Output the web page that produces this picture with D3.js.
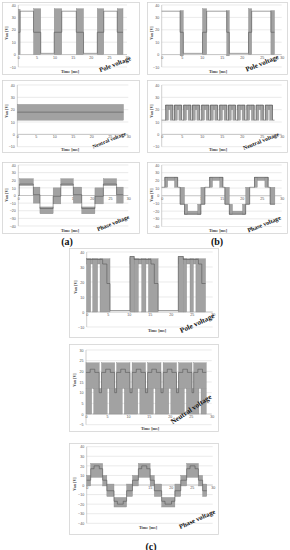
<!DOCTYPE html>
<html>
<head>
<meta charset="utf-8">
<script src="https://cdn.jsdelivr.net/npm/d3@7"></script>
<style>
  body { margin: 0; background: #fff; }
  svg { display: block; }
</style>
</head>
<body>
<svg width="290" height="550"></svg>
<script>
// tick labels
var timeTicks = [0, 5, 10, 15, 20, 25, 30];
var poleTicks = [40, 30, 20, 10, 0, -10];
var neutralTicks = [40, 30, 20, 10, 0, -10];
var neutralTicksC = [30, 25, 20, 15, 10, 5, 0, -5];
var phaseTicks = [40, 30, 20, 10, 0, -10, -20, -30, -40];

// switching bands [t0, t1, low, high] (ms, V) and mean line [t, V] (step)
// (a) pole voltage
var poleA_bands = [[0, 0.5, 0, 36.5], [4.2, 6.2, 0, 37], [9.9, 12, 0, 37], [16, 18, 0, 37],
  [21.8, 23.6, 0, 37], [27.3, 28.9, 0, 37]];
var poleA_line = [[0, 18], [0.5, 35], [4.2, 18], [6.2, 1], [9.9, 18], [12, 35], [16, 18], [18, 1],
  [21.8, 18], [23.6, 35], [27.3, 18], [28.9, 18]];

// (b) pole voltage
var poleB_bands = [[4.6, 5.4, -1, 35.5], [10.2, 11.25, 0, 37], [16.25, 16.9, -1, 35.5],
  [21.7, 22.5, 0, 37], [27.3, 28.2, 0, 35.5]];
var poleB_line = [[0, 35], [4.6, 18], [5.4, 1], [10.2, 18], [11.25, 35], [16.25, 18], [16.9, 1],
  [21.7, 18], [22.5, 35], [27.3, 18], [28.2, 18]];

// (a) neutral voltage
var neutralA_bands = [[0, 28.7, 11.5, 24.3]];
var neutralA_line = [[0, 18], [28.7, 18]];

// (b) neutral voltage: pulse groups [t0, t1]
var neutralB_groups = [[1.0, 2.8], [3.2, 5.0], [5.5, 7.3], [7.7, 9.5], [10.0, 11.8], [12.2, 14.0],
  [14.5, 16.3], [16.7, 18.5], [19.0, 20.8], [21.3, 23.1], [23.6, 25.4], [25.9, 27.7]];

// (a) phase voltage
var phaseA_bands = [[0.3, 4.1, 13, 22], [4.1, 5.9, -10, 11], [5.9, 9.5, -24, -15], [9.5, 11.6, -11, 10],
  [11.6, 15, 13, 22], [15, 17.3, -10, 11], [17.3, 20.9, -24, -15], [20.9, 23.2, -11, 10],
  [23.2, 26.8, 13, 22], [26.8, 28.6, -10, 11]];
var phaseA_line = [[0, 0], [0.3, 15], [4.1, 1], [5.9, -17], [9.5, -1], [11.6, 15], [15, 1], [17.3, -17],
  [20.9, -1], [23.2, 15], [26.8, 1], [28.6, 1]];

// (b) phase voltage
var phaseB_bands = [
  [0.8, 4.0, 20, 24], [0.8, 1.5, 11, 24], [3.2, 4.0, 11, 24], [4.6, 5.7, -11, 11],
  [5.7, 9.8, -24, -20], [5.7, 6.5, -24, -11], [9.0, 9.8, -24, -11], [9.8, 10.8, -11, 11],
  [12.0, 15.3, 20, 24], [12.0, 12.7, 11, 24], [14.5, 15.3, 11, 24], [15.8, 16.9, -11, 11],
  [16.9, 21.0, -24, -20], [16.9, 17.7, -24, -11], [20.2, 21.0, -24, -11], [21.0, 22.0, -11, 11],
  [23.2, 26.6, 20, 24], [23.2, 23.9, 11, 24], [25.8, 26.6, 11, 24], [27.1, 28.3, -11, 11]];
var phaseB_line = [[0, 11], [0.8, 24], [4.0, 11], [4.6, -11], [5.7, -24], [9.8, -11], [10.8, 11],
  [12.0, 24], [15.3, 11], [15.8, -11], [16.9, -24], [21.0, -11], [22.0, 11], [23.2, 24], [26.6, 11],
  [27.1, -11], [28.3, -11]];

// (c) pole voltage
var poleC_bands = [
  [0, 3.8, 32, 35.5], [0, 0.95, 0, 35.5], [1.43, 2.6, 0, 35.5], [3.17, 5.55, 0, 35.5],
  [10.3, 15.3, 32, 35.5], [10.3, 11.3, 0, 37], [11.3, 12.3, 0, 35.5], [13.1, 14.1, 0, 35.5], [14.7, 17, 0, 35.5],
  [21.8, 26.6, 32, 35.5], [21.8, 23, 0, 37], [23, 23.8, 0, 35.5], [24.6, 25.4, 0, 35.5], [26, 28.3, 0, 35.5]];
var poleC_line = [[0, 35], [3.8, 32], [4.8, 19], [5.55, 1], [10.3, 37], [11.3, 35], [15.3, 32], [16.1, 19],
  [17, 1], [21.8, 37], [23, 35], [26.6, 32], [27.4, 19], [28.3, 19]];

// (c) neutral voltage
var neutralC_bands = [
  [0, 3.15, 12, 24], [3.7, 6.85, 12, 24], [7.3, 10.5, 12, 24], [11.0, 14.2, 12, 24],
  [14.7, 17.9, 12, 24], [18.4, 21.6, 12, 24], [22.1, 25.3, 12, 24], [25.7, 28.7, 12, 24],
  [0, 1.35, 0, 12], [1.85, 5.05, 0, 12], [5.55, 8.65, 0, 12], [9.15, 12.35, 0, 12],
  [12.85, 16.05, 0, 12], [16.55, 19.75, 0, 12], [20.25, 23.45, 0, 12], [23.95, 26.95, 0, 12],
  [27.45, 28.7, 0, 12]];
var neutralC_line = [[0, 19.5], [1.0, 21], [2.1, 19.5], [3.15, 10], [3.7, 19.5], [4.7, 21], [5.8, 19.5],
  [6.85, 10], [7.3, 19.5], [8.3, 21], [9.4, 19.5], [10.5, 10], [11.0, 19.5], [12.0, 21], [13.1, 19.5],
  [14.2, 10], [14.7, 19.5], [15.7, 21], [16.8, 19.5], [17.9, 10], [18.4, 19.5], [19.4, 21], [20.5, 19.5],
  [21.6, 10], [22.1, 19.5], [23.1, 21], [24.2, 19.5], [25.3, 10], [25.7, 19.5], [26.7, 21], [27.8, 19.5],
  [28.7, 19.5]];

// (c) phase voltage
var phaseC_bands = [
  [0, 0.95, -1, 10], [0.95, 3.8, 8, 22.5], [3.8, 4.8, -1, 10], [4.8, 6.5, -12, 1], [6.5, 9.5, -23, -13],
  [9.5, 10.9, -12, 1], [10.9, 12.3, -1, 10], [12.3, 15.1, 8, 22.5], [15.1, 16.1, -1, 10],
  [16.1, 17.85, -12, 1], [17.85, 21.0, -23, -13], [21.0, 22.4, -12, 1], [22.4, 23.8, -1, 10],
  [23.8, 26.6, 8, 22.5], [26.6, 27.6, -1, 10], [27.6, 28.6, -12, 1]];
var phaseC_line = [[0, 5], [0.95, 17], [1.75, 20], [3.0, 17], [3.8, 5], [4.8, -6], [6.5, -17], [7.3, -20],
  [8.7, -17], [9.5, -6], [10.9, 5], [12.3, 17], [13.1, 20], [14.3, 17], [15.1, 5], [16.1, -6],
  [17.85, -17], [18.65, -20], [20.2, -17], [21.0, -6], [22.4, 5], [23.8, 17], [24.6, 20], [25.8, 17],
  [26.6, 5], [27.6, -6], [28.6, -6]];

// (b) neutral: each pulse group drawn as a joined pair of pulses
var neutralB_bands = [];
var neutralB_line = [[0, 11.5]];
neutralB_groups.forEach(function (g) {
  neutralB_bands.push([g[0], g[1], 20, 23.7], [g[0], g[0] + 0.7, 11.5, 23.7], [g[1] - 0.7, g[1], 11.5, 23.7]);
  neutralB_line.push([g[0], 23.7], [g[1], 11.5]);
});
neutralB_line.push([28.2, 11.5]);

// layout of the panels
var panels = [
  { bands: poleA_bands, line: poleA_line, ticks: poleTicks, name: "Pole voltage",
    box: [2, 2, 139, 74], xr: [18.3, 127], yr: [5, 67], lab: [115, 64, -22, 6.5], yt: [7, 33], xt: [70, 71.5] },
  { bands: poleB_bands, line: poleB_line, ticks: poleTicks, name: "Pole voltage",
    box: [147, 2, 287, 74], xr: [161.7, 281.7], yr: [5, 67], lab: [262, 63, -22, 6.8], yt: [152, 33], xt: [218, 71.5] },
  { bands: neutralA_bands, line: neutralA_line, ticks: neutralTicks, name: "Neutral voltage",
    box: [2, 80, 139, 152], xr: [17.3, 128.3], yr: [85, 146.7], lab: [109, 140, -22, 5.4], yt: [7, 111], xt: [70, 149.5] },
  { bands: neutralB_bands, line: neutralB_line, ticks: neutralTicks, name: "Neutral voltage",
    box: [147, 80, 287, 152], xr: [161.7, 281.7], yr: [85, 146.7], lab: [261, 141, -22, 5.8], yt: [152, 111], xt: [218, 149.5] },
  { bands: phaseA_bands, line: phaseA_line, ticks: phaseTicks, name: "Phase voltage",
    box: [2, 162, 139, 233], xr: [18.3, 128.3], yr: [165, 226], lab: [113, 223, -22, 5.9], yt: [7, 195], xt: [70, 230.5] },
  { bands: phaseB_bands, line: phaseB_line, ticks: phaseTicks, name: "Phase voltage",
    box: [147, 162, 287, 233], xr: [161.7, 281.7], yr: [165, 226.5], lab: [264, 224, -22, 6.1], yt: [152, 195], xt: [218, 230.5] },
  { bands: poleC_bands, line: poleC_line, ticks: poleTicks, name: "Pole voltage",
    box: [69, 248, 218, 337], xr: [86.7, 212.7], yr: [252, 327], lab: [197, 323, -25, 7.2], yt: [76, 287], xt: [157, 331] },
  { bands: neutralC_bands, line: neutralC_line, ticks: neutralTicksC, name: "Neutral voltage",
    box: [69, 344, 218, 431], xr: [86, 211.7], yr: [350, 424.7], lab: [191, 409, -34, 7.2], yt: [75, 380], xt: [150, 429] },
  { bands: phaseC_bands, line: phaseC_line, ticks: phaseTicks, name: "Phase voltage",
    box: [69, 443, 218, 534], xr: [86.7, 212.7], yr: [446.7, 523.3], lab: [197, 519, -24, 6.7], yt: [75, 484], xt: [148, 528] }
];

var svg = d3.select("svg");

panels.forEach(function (p) {
  var g = svg.append("g");
  var x = d3.scaleLinear().domain([0, 30]).range(p.xr);
  var y = d3.scaleLinear().domain([p.ticks[0], p.ticks[p.ticks.length - 1]]).range(p.yr);

  // frame
  g.append("rect")
    .attr("x", p.box[0] + 0.5).attr("y", p.box[1] + 0.5)
    .attr("width", p.box[2] - p.box[0]).attr("height", p.box[3] - p.box[1])
    .attr("fill", "#fff").attr("stroke", "#d4d4d4").attr("stroke-width", 0.8);

  // gridlines
  g.selectAll(".grid").data(p.ticks).enter().append("line")
    .attr("x1", p.xr[0]).attr("x2", p.xr[1])
    .attr("y1", function (d) { return y(d); }).attr("y2", function (d) { return y(d); })
    .attr("stroke", function (d) { return d === 0 ? "#9a9a9a" : "#dcdcdc"; })
    .attr("stroke-width", 0.6);

  g.append("line")
    .attr("x1", p.xr[0]).attr("x2", p.xr[0])
    .attr("y1", p.yr[0]).attr("y2", p.yr[1])
    .attr("stroke", "#b0b0b0").attr("stroke-width", 0.6);

  // axes (labels only)
  var ya = g.append("g")
    .attr("transform", "translate(" + p.xr[0] + ",0)")
    .call(d3.axisLeft(y).tickValues(p.ticks).tickSize(0).tickPadding(2.5));
  var xa = g.append("g")
    .attr("transform", "translate(0," + y(0) + ")")
    .call(d3.axisBottom(x).tickValues(timeTicks).tickSize(0).tickPadding(1.5));
  [ya, xa].forEach(function (a) {
    a.select(".domain").remove();
    a.selectAll("text").attr("font-size", 3.6).attr("fill", "#555")
      .attr("font-family", "Liberation Sans, sans-serif");
  });

  // switching bands
  g.selectAll(".band").data(p.bands).enter().append("rect")
    .attr("x", function (d) { return x(d[0]); })
    .attr("width", function (d) { return x(d[1]) - x(d[0]); })
    .attr("y", function (d) { return y(d[3]); })
    .attr("height", function (d) { return y(d[2]) - y(d[3]); })
    .attr("fill", "#a2a2a2").attr("stroke", "#858585").attr("stroke-width", 0.35);

  // mean line
  g.append("path")
    .datum(p.line)
    .attr("d", d3.line()
      .x(function (d) { return x(d[0]); })
      .y(function (d) { return y(d[1]); })
      .curve(d3.curveStepAfter))
    .attr("fill", "none").attr("stroke", "#505050").attr("stroke-width", 0.55);

  // axis titles
  g.append("text")
    .attr("transform", "translate(" + p.yt[0] + "," + p.yt[1] + ") rotate(-90)")
    .attr("text-anchor", "middle").attr("dy", "0.35em")
    .attr("font-size", 4).attr("font-family", "Liberation Serif, serif").attr("font-weight", "bold")
    .attr("fill", "#444").text("Van [V]");
  g.append("text")
    .attr("x", p.xt[0]).attr("y", p.xt[1])
    .attr("text-anchor", "middle").attr("dy", "0.35em")
    .attr("font-size", 4.2).attr("font-family", "Liberation Serif, serif").attr("font-weight", "bold")
    .attr("fill", "#444").text("Time [ms]");

  // rotated caption
  g.append("text")
    .attr("transform", "translate(" + p.lab[0] + "," + p.lab[1] + ") rotate(" + p.lab[2] + ")")
    .attr("text-anchor", "middle").attr("dy", "0.35em")
    .attr("font-size", p.lab[3]).attr("font-family", "Liberation Serif, serif").attr("font-weight", "bold")
    .attr("fill", "#111").text(p.name);
});

// sub-figure letters
var letters = [["(a)", 67, 241], ["(b)", 217, 241], ["(c)", 151, 546]];
svg.selectAll(".letter").data(letters).enter().append("text")
  .attr("x", function (d) { return d[1]; }).attr("y", function (d) { return d[2]; })
  .attr("text-anchor", "middle").attr("dy", "0.35em")
  .attr("font-size", 10).attr("font-family", "Liberation Serif, serif").attr("font-weight", "bold")
  .attr("fill", "#111").text(function (d) { return d[0]; });
</script>
</body>
</html>
